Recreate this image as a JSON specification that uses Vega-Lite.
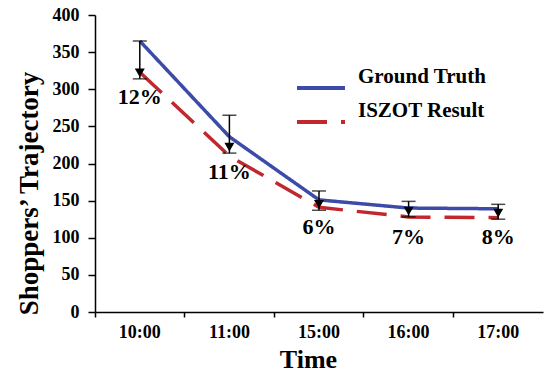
{
  "$schema": "https://vega.github.io/schema/vega-lite/v6.json",
  "width": 448,
  "height": 297,
  "autosize": {"type": "none"},
  "padding": {"left": 95, "top": 15, "right": 2, "bottom": 62},
  "background": "white",
  "config": {
    "font": "Liberation Serif",
    "view": {"stroke": null},
    "axis": {
      "labelFont": "Liberation Serif",
      "titleFont": "Liberation Serif",
      "labelFontWeight": "bold",
      "titleFontWeight": "bold",
      "labelColor": "black",
      "titleColor": "black",
      "domainColor": "black",
      "tickColor": "black",
      "grid": false
    }
  },
  "datasets": {
    "lines": [
      {"time": "10:00", "series": "Ground Truth", "value": 365},
      {"time": "11:00", "series": "Ground Truth", "value": 236},
      {"time": "15:00", "series": "Ground Truth", "value": 151},
      {"time": "16:00", "series": "Ground Truth", "value": 140},
      {"time": "17:00", "series": "Ground Truth", "value": 139},
      {"time": "10:00", "series": "ISZOT Result", "value": 323},
      {"time": "11:00", "series": "ISZOT Result", "value": 210},
      {"time": "15:00", "series": "ISZOT Result", "value": 141},
      {"time": "16:00", "series": "ISZOT Result", "value": 128},
      {"time": "17:00", "series": "ISZOT Result", "value": 127}
    ],
    "errs": [
      {"time": "10:00", "upper": 365, "lower": 314, "pct": "12%", "labelY": 290},
      {"time": "11:00", "upper": 265, "lower": 214, "pct": "11%", "labelY": 189},
      {"time": "15:00", "upper": 163, "lower": 137, "pct": "6%", "labelY": 115},
      {"time": "16:00", "upper": 149, "lower": 128, "pct": "7%", "labelY": 101},
      {"time": "17:00", "upper": 145, "lower": 125, "pct": "8%", "labelY": 101}
    ]
  },
  "layer": [
    {
      "data": {"name": "lines"},
      "mark": {"type": "line", "strokeWidth": 3.5},
      "encoding": {
        "x": {
          "field": "time",
          "type": "ordinal",
          "sort": null,
          "scale": {"type": "band", "domain": ["10:00", "11:00", "15:00", "16:00", "17:00"], "paddingInner": 0, "paddingOuter": 0},
          "axis": {
            "title": "Time",
            "titleFontSize": 26,
            "titleX": 213,
            "titleY": 55,
            "titleBaseline": "alphabetic",
            "labelFontSize": 18,
            "labelAngle": 0,
            "labelPadding": 6,
            "tickSize": 5,
            "tickWidth": 1.5,
            "domainWidth": 1.5,
            "bandPosition": 0
          }
        },
        "y": {
          "field": "value",
          "type": "quantitative",
          "scale": {"domain": [0, 400], "nice": false},
          "axis": {
            "title": "Shoppers’ Trajectory",
            "titleFontSize": 27,
            "titleX": -66,
            "titleY": 178,
            "titleAngle": 270,
            "titleBaseline": "middle",
            "titleAlign": "center",
            "labelFontSize": 18,
            "labelOverlap": false,
            "values": [0, 50, 100, 150, 200, 250, 300, 350, 400],
            "tickCount": 12,
            "tickSize": 7,
            "tickWidth": 1.5,
            "labelPadding": 9,
            "domainWidth": 1.5
          }
        },
        "color": {
          "field": "series",
          "type": "nominal",
          "scale": {"domain": ["Ground Truth", "ISZOT Result"], "range": ["#3D4BA8", "#C1272D"]},
          "legend": {
            "orient": "none",
            "legendX": 200,
            "legendY": 47,
            "title": null,
            "symbolType": "stroke",
            "symbolSize": 2304,
            "symbolStrokeWidth": 4,
            "labelFontSize": 21,
            "labelFont": "Liberation Serif",
            "labelFontWeight": "bold",
            "labelColor": "black",
            "labelOffset": 11,
            "rowPadding": -15,
            "padding": 0,
            "labelBaseline": "line-bottom",
            "labelLineHeight": 24,
            "encode": {
              "symbols": {
                "update": {
                  "strokeDash": {"signal": "datum.value === 'ISZOT Result' ? [22,4] : [1,0]"}
                }
              }
            }
          }
        },
        "strokeDash": {
          "field": "series",
          "type": "nominal",
          "scale": {"domain": ["Ground Truth", "ISZOT Result"], "range": [[1, 0], [30, 14]]},
          "legend": null
        }
      }
    },
    {
      "data": {"name": "errs"},
      "mark": {"type": "rule", "color": "black", "strokeWidth": 1.5},
      "encoding": {
        "x": {"field": "time", "type": "ordinal", "sort": null},
        "y": {"field": "upper", "type": "quantitative"},
        "y2": {"field": "lower"}
      }
    },
    {
      "data": {"name": "errs"},
      "mark": {"type": "tick", "color": "black", "size": 14, "thickness": 1.5},
      "encoding": {
        "x": {"field": "time", "type": "ordinal", "sort": null},
        "y": {"field": "upper", "type": "quantitative"}
      }
    },
    {
      "data": {"name": "errs"},
      "mark": {"type": "tick", "color": "black", "size": 14, "thickness": 1.5},
      "encoding": {
        "x": {"field": "time", "type": "ordinal", "sort": null},
        "y": {"field": "lower", "type": "quantitative"}
      }
    },
    {
      "data": {"name": "errs"},
      "mark": {"type": "point", "shape": "triangle-down", "filled": true, "color": "black", "size": 100, "opacity": 1, "yOffset": -6},
      "encoding": {
        "x": {"field": "time", "type": "ordinal", "sort": null},
        "y": {"field": "lower", "type": "quantitative"}
      }
    },
    {
      "data": {"name": "errs"},
      "mark": {"type": "text", "font": "Liberation Serif", "fontWeight": "bold", "fontSize": 22, "color": "black", "baseline": "middle"},
      "encoding": {
        "x": {"field": "time", "type": "ordinal", "sort": null},
        "y": {"field": "labelY", "type": "quantitative"},
        "text": {"field": "pct"}
      }
    }
  ]
}
